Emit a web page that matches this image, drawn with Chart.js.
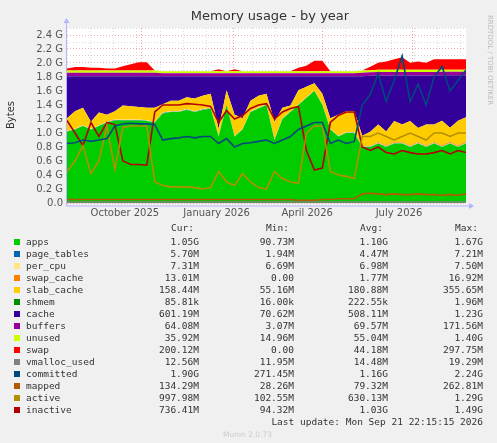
<!DOCTYPE html>
<html><head><meta charset="utf-8">
<script src="https://cdn.jsdelivr.net/npm/chart.js@4"></script>
<style>
body{margin:0;background:#f0f0f0;width:497px;height:443px;overflow:hidden;font-family:"DejaVu Sans",sans-serif;}
#wrap{position:absolute;left:0;top:0;width:497px;height:225px;}
#leg{position:absolute;left:0;top:222px;width:497px;font-family:"DejaVu Sans Mono",monospace;font-size:9.5px;color:#333;}
.r{position:absolute;height:12px;line-height:12px;white-space:pre;}
.sq{position:absolute;width:6px;height:6px;left:14px;}
.v{position:absolute;text-align:right;}
</style></head><body>
<div id="wrap"><canvas id="c" width="497" height="225"></canvas></div>
<div id="leg"></div>
<script>
const xTickPos=[7.25,18.75,30.1,41.6];
const xTickLabels=["October 2025","January 2026","April 2026","July 2026"];
const monthLines=[9.25,20.75,32,43.25];
const apps=[1.02,1.05,1.1,1.05,1.1,1.15,1.18,1.18,1.18,1.18,1.17,1.15,1.28,1.3,1.3,1.33,1.3,1.33,1.35,0.95,1.4,0.95,1.05,1.3,1.35,1.4,0.9,1.2,1.3,1.4,1.5,1.6,1.4,1.05,0.95,1.0,1.0,0.8,0.8,0.85,0.8,0.85,0.85,0.8,0.85,0.8,0.85,0.8,0.85,0.8,0.85];
const pageTables=Array(51).fill(0.005);
const perCpu=Array(51).fill(0.007);
const swapCache=[0,0,0,0,0,0,0,0,0,0,0,0,0,0,0,0,0,0,0,0,0,0,0,0,0,0,0,0,0,0,0,0,0,0,0,0,0,0,0.005,0.01,0.01,0.01,0.01,0.01,0.01,0.01,0.01,0.012,0.012,0.013,0.013];
const slabCache=[.18,.25,.25,.1,.18,.1,.12,.2,.19,.18,.18,.2,.12,.15,.15,.17,.18,.19,.2,.1,.2,.3,.15,.15,.17,.15,.25,.15,.08,.2,.15,.1,.15,.15,.3,.3,.3,.15,.2,.25,.2,.3,.25,.35,.2,.3,.25,.35,.2,.35,.35];
const shmem=Array(51).fill(0.0002);
const cache=[.6,.5,.45,.65,.52,.55,.5,.42,.43,.44,.45,.45,.4,.35,.35,.3,.32,.28,.25,.75,.2,.55,.6,.35,.28,.25,.65,.45,.42,.2,.15,.1,.25,.6,.55,.5,.5,.85,.8,.7,.8,.65,.7,.65,.75,.7,.7,.65,.75,.65,.6];
const buffers=[.05,.05,.05,.05,.05,.05,.05,.05,.05,.05,.05,.05,.04,.04,.04,.04,.04,.04,.04,.04,.04,.04,.04,.04,.04,.04,.04,.04,.04,.04,.04,.04,.04,.04,.04,.04,.04,.05,.05,.05,.05,.05,.05,.05,.05,.05,.05,.05,.05,.05,.05];
const unused=Array(51).fill(0.03);
const swap=[.03,.05,.05,.04,.04,.03,.03,.06,.09,.12,.12,0,0,0,0,0,0,0,0,.03,0,.03,0,0,0,0,0,0,0,.05,.08,.15,.15,0,0,0,0,0,.05,.1,.12,.15,.18,.1,.12,.1,.15,.15,.15,.15,.15];
const vmalloc=Array(51).fill(0.014);
const committed=[.85,.86,.9,.88,.9,.92,1.1,1.13,1.14,1.13,1.13,1.12,.9,.92,.93,.95,.93,.95,.95,.85,.92,.8,.85,.86,.88,.9,.85,.9,.95,1.05,1.1,1.15,1.15,.85,.9,.85,.88,1.4,1.55,1.85,1.45,1.75,2.1,1.45,1.7,1.4,1.8,1.95,1.6,1.75,1.9];
const mapped=[.05,.05,.05,.05,.05,.05,.05,.05,.05,.05,.05,.05,.05,.05,.05,.05,.05,.05,.05,.05,.05,.05,.05,.05,.05,.05,.05,.05,.05,.04,.04,.04,.05,.05,.06,.06,.06,.13,.14,.13,.12,.13,.12,.12,.13,.12,.12,.11,.12,.11,.13];
const active=[.45,.6,.82,.42,.6,1.1,.48,1.08,1.1,1.1,1.1,.3,.25,.23,.23,.23,.22,.2,.22,.45,.3,.25,.42,.3,.22,.2,.45,.35,.3,.28,1.0,1.1,1.1,.45,.4,.38,.35,.95,.95,1.0,.95,.9,.95,1.0,.95,.9,1.0,1.0,.95,1.0,1.0];
const inactive=[1.18,1.0,.82,1.15,.95,1.15,1.12,.6,.55,.55,.54,1.3,1.4,1.4,1.4,1.42,1.41,1.4,1.38,1.15,1.32,1.2,1.25,1.35,1.4,1.42,1.2,1.3,1.35,1.38,.75,.47,.5,1.15,1.25,1.3,1.3,.8,.75,.8,.72,.7,.75,.72,.7,.7,.72,.75,.7,.75,.72];

const stackDefs=[["apps",apps,"#00cc00"],["page_tables",pageTables,"#0066b3"],["per_cpu",perCpu,"#ffe680"],["swap_cache",swapCache,"#ff8000"],["slab_cache",slabCache,"#ffcc00"],["shmem",shmem,"#008f00"],["cache",cache,"#330099"],["buffers",buffers,"#990099"],["unused",unused,"#ccff00"],["swap",swap,"#ff0000"]];
const lineDefs=[["vmalloc_used",vmalloc,"#808080"],["committed",committed,"#00487d"],["mapped",mapped,"#b35a00"],["active",active,"#b38f00"],["inactive",inactive,"#b30000"]];
const ds=[];
lineDefs.forEach(([n,d,c])=>ds.push({label:n,data:d.map((v,i)=>({x:i,y:v})),borderColor:c,borderWidth:1.6,pointRadius:0,fill:false,yAxisID:'y2',order:0}));
stackDefs.forEach(([n,d,c],k)=>ds.push({label:n,data:d.map((v,i)=>({x:i,y:v})),backgroundColor:c,borderColor:c,borderWidth:0,pointRadius:0,fill:k===0?'origin':'-1',yAxisID:'y',stack:'s',order:1}));

const deco={id:'deco',
beforeDraw(ch){const {ctx,chartArea:a}=ch;ctx.save();ctx.fillStyle='#fff';ctx.fillRect(a.left,a.top,a.right-a.left,a.bottom-a.top);ctx.restore();},
beforeDatasetsDraw(ch){const {ctx,chartArea:a,scales:{x}}=ch;ctx.save();
ctx.setLineDash([1,2]);ctx.lineWidth=1;
for(let m=0;m<50;m+=2.9){const px=Math.round(x.getPixelForValue(m))+0.5;ctx.strokeStyle='#ddd';ctx.beginPath();ctx.moveTo(px,a.top);ctx.lineTo(px,a.bottom);ctx.stroke();}
monthLines.forEach(m=>{const px=Math.round(x.getPixelForValue(m))+0.5;ctx.strokeStyle='#f4a0a0';ctx.beginPath();ctx.moveTo(px,a.top);ctx.lineTo(px,a.bottom);ctx.stroke();});
ctx.restore();},
afterDraw(ch){const {ctx,chartArea:a}=ch;ctx.save();
ctx.fillStyle='#333';ctx.font='13px "DejaVu Sans"';ctx.textAlign='center';ctx.fillText('Memory usage - by year',270,20);
ctx.font='10px "DejaVu Sans"';ctx.translate(14,115);ctx.rotate(-Math.PI/2);ctx.fillText('Bytes',0,0);ctx.restore();
ctx.save();ctx.fillStyle='#bbb';ctx.font='7px "DejaVu Sans"';ctx.translate(488,60);ctx.rotate(Math.PI/2);ctx.textAlign='center';ctx.fillText('RRDTOOL / TOBI OETIKER',0,0);ctx.restore();
ctx.save();ctx.strokeStyle='#b4b4ff';ctx.fillStyle='#b4b4ff';ctx.lineWidth=1;ctx.beginPath();ctx.moveTo(a.left,a.bottom+3);ctx.lineTo(a.right+4,a.bottom+3);ctx.moveTo(a.left-0.5,a.bottom+3);ctx.lineTo(a.left-0.5,a.top-6);ctx.stroke();
ctx.beginPath();ctx.moveTo(a.right+8,a.bottom+3);ctx.lineTo(a.right+3,a.bottom);ctx.lineTo(a.right+3,a.bottom+6);ctx.fill();
ctx.beginPath();ctx.moveTo(a.left-0.5,a.top-10);ctx.lineTo(a.left-3.5,a.top-5);ctx.lineTo(a.left+2.5,a.top-5);ctx.fill();ctx.restore();}};

new Chart(document.getElementById('c'),{type:'line',data:{datasets:ds},plugins:[deco],
options:{responsive:false,animation:false,layout:{padding:{top:28,right:31,left:0,bottom:0}},
plugins:{legend:{display:false},tooltip:{enabled:false}},
elements:{line:{tension:0}},
scales:{
x:{type:'linear',min:0,max:50,grid:{display:false},border:{display:false},
afterBuildTicks(s){s.ticks=xTickPos.map(v=>({value:v}));},
ticks:{autoSkip:false,maxRotation:0,color:'#555',font:{size:10,family:'DejaVu Sans'},padding:-4,callback:(v)=>{const i=xTickPos.indexOf(v);return i>=0?xTickLabels[i]:'';}},
afterFit(s){s.height=22;}},
y:{stacked:true,min:0,max:2.5,border:{display:false,dash:[1,2]},
afterBuildTicks(s){const t=[];for(let i=0;i<=25;i++)t.push({value:i/10});s.ticks=t;},
grid:{color:c=>Math.round(c.tick.value*10)%2===0?'#f4a8a8':'#d8d8d8',lineWidth:1,drawTicks:false},
ticks:{autoSkip:false,color:'#555',font:{size:10,family:'DejaVu Sans'},padding:4,callback:v=>{const k=Math.round(v*10);return (k%2===0&&k<=24)?(v.toFixed(1)+(k===0?'':' G')):'';}},
afterFit(s){s.width=67;}},
y2:{display:false,min:0,max:2.5}
}}});

const legend=[["apps","#00cc00","1.05G","90.73M","1.10G","1.67G"],["page_tables","#0066b3","5.70M","1.94M","4.47M","7.21M"],["per_cpu","#ffe680","7.31M","6.69M","6.98M","7.50M"],["swap_cache","#ff8000","13.01M","0.00","1.77M","16.92M"],["slab_cache","#ffcc00","158.44M","55.16M","180.88M","355.65M"],["shmem","#008f00","85.81k","16.00k","222.55k","1.96M"],["cache","#330099","601.19M","70.62M","508.11M","1.23G"],["buffers","#990099","64.08M","3.07M","69.57M","171.56M"],["unused","#ccff00","35.92M","14.96M","55.04M","1.40G"],["swap","#ff0000","200.12M","0.00","44.18M","297.75M"],["vmalloc_used","#808080","12.56M","11.95M","14.48M","19.29M"],["committed","#00487d","1.90G","271.45M","1.16G","2.24G"],["mapped","#b35a00","134.29M","28.26M","79.32M","262.81M"],["active","#b38f00","997.98M","102.55M","630.13M","1.29G"],["inactive","#b30000","736.41M","94.32M","1.03G","1.49G"]];
const L=document.getElementById('leg');const rights=[199,294,388,483];
let h='';["Cur:","Min:","Avg:","Max:"].forEach((t,j)=>h+=`<div class="r v" style="top:0;right:${497-rights[j]+5}px">${t}</div>`);
legend.forEach((r,i)=>{const top=14+i*12;h+=`<div class="sq" style="top:${top+3}px;background:${r[1]}"></div><div class="r" style="left:26px;top:${top}px">${r[0]}</div>`;
for(let j=0;j<4;j++)h+=`<div class="r v" style="top:${top}px;right:${497-rights[j]}px">${r[2+j]}</div>`;});
h+=`<div class="r v" style="top:${14+15*12}px;right:14px">Last update: Mon Sep 21 22:15:15 2026</div>`;
h+=`<div class="r" style="top:${14+16*12+1}px;left:223px;font-family:'DejaVu Sans';font-size:7.5px;color:#ccc">Munin 2.0.73</div>`;
L.innerHTML=h;
</script></body></html>
